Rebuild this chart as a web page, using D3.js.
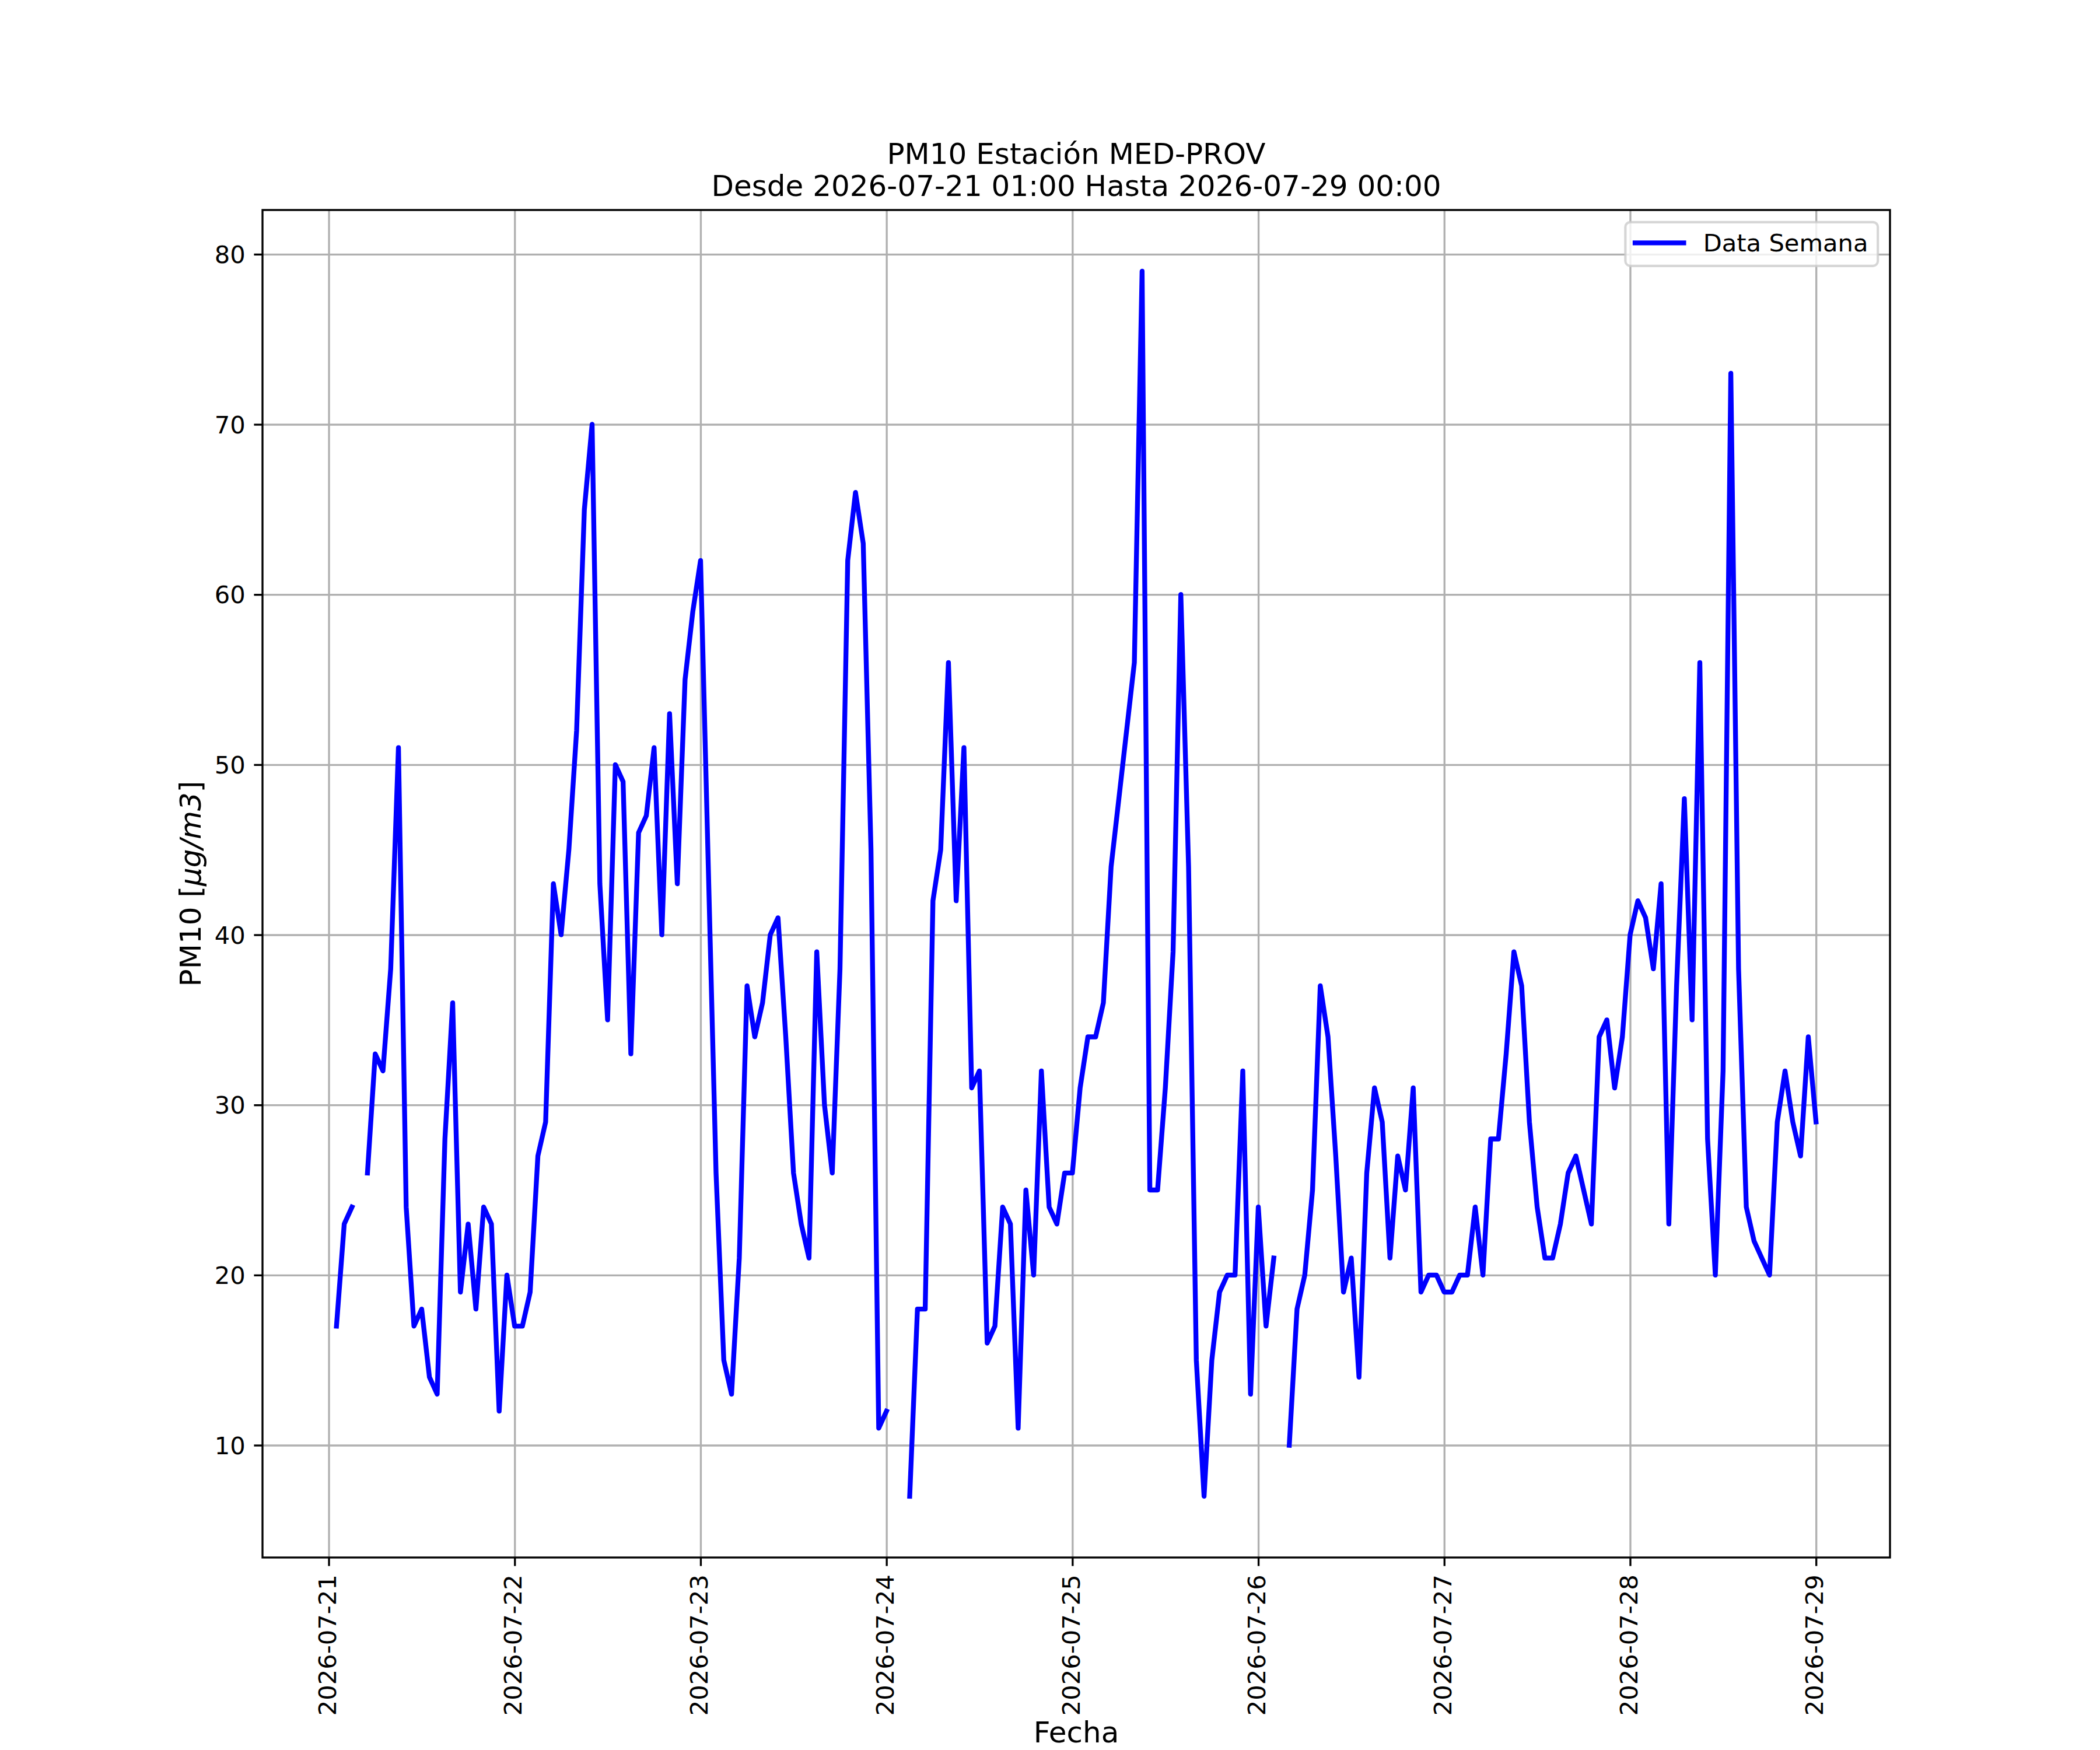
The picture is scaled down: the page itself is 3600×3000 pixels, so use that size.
<!DOCTYPE html>
<html>
<head>
<meta charset="utf-8">
<script src="https://cdn.jsdelivr.net/npm/d3@7"></script>
<style>
    body { margin: 0; background: #ffffff; }
    text { font-family: "DejaVu Sans", sans-serif; fill: #000000; }
</style>
</head>
<body>
<div id="chart"></div>
<script>
const WIDTH = 3600;
const HEIGHT = 3000;
const PT = 300 / 72; // px per point, figure saved at 300 dpi
const margin = {top: 360, right: 360, bottom: 330, left: 450};

const titleLines = ["PM10 Estación MED-PROV", "Desde 2026-07-21 01:00 Hasta 2026-07-29 00:00"];
const seriesName = "Data Semana";
const xLabel = "Fecha";
const yTicks = [10, 20, 30, 40, 50, 60, 70, 80];

// hourly PM10, first value at 2026-07-21 01:00 UTC, null = missing hour
const firstHour = Date.UTC(2026, 6, 21, 1);
const pm10Day21 = [17, 23, 24, null, 26, 33, 32, 38, 51, 24, 17, 18, 14, 13, 28, 36, 19, 23, 18, 24, 23, 12, 20];
const pm10Day22 = [17, 17, 19, 27, 29, 43, 40, 45, 52, 65, 70, 43, 35, 50, 49, 33, 46, 47, 51, 40, 53, 43, 55, 59];
const pm10Day23 = [62, 44, 26, 15, 13, 21, 37, 34, 36, 40, 41, 34, 26, 23, 21, 39, 30, 26, 38, 62, 66, 63, 45, 11];
const pm10Day24 = [12, null, null, 7, 18, 18, 42, 45, 56, 42, 51, 31, 32, 16, 17, 24, 23, 11, 25, 20, 32, 24, 23, 26];
const pm10Day25 = [26, 31, 34, 34, 36, 44, 48, 52, 56, 79, 25, 25, 31, 39, 60, 44, 15, 7, 15, 19, 20, 20, 32, 13];
const pm10Day26 = [24, 17, 21, null, 10, 18, 20, 25, 37, 34, 27, 19, 21, 14, 26, 31, 29, 21, 27, 25, 31, 19, 20, 20];
const pm10Day27 = [19, 19, 20, 20, 24, 20, 28, 28, 33, 39, 37, 29, 24, 21, 21, 23, 26, 27, 25, 23, 34, 35, 31, 34];
const pm10Day28 = [40, 42, 41, 38, 43, 23, 37, 48, 35, 56, 28, 20, 32, 73, 38, 24, 22, 21, 20, 29, 32, 29, 27, 34];
const pm10Day29 = [29];

const values = [].concat(pm10Day21, pm10Day22, pm10Day23, pm10Day24,
    pm10Day25, pm10Day26, pm10Day27, pm10Day28, pm10Day29);
const data = values.map((v, i) => ({date: d3.utcHour.offset(new Date(firstHour), i), value: v}));

const width = WIDTH - margin.left - margin.right;
const height = HEIGHT - margin.top - margin.bottom;
const tickFont = 10 * PT;
const labelFont = 12 * PT;

// matplotlib style 5% margins
const tExtent = d3.extent(data, d => d.date);
const tPad = (tExtent[1] - tExtent[0]) * 0.05;
const x = d3.scaleUtc()
    .domain([new Date(+tExtent[0] - tPad), new Date(+tExtent[1] + tPad)])
    .range([0, width]);

const vExtent = d3.extent(data, d => d.value);
const vPad = (vExtent[1] - vExtent[0]) * 0.05;
const y = d3.scaleLinear()
    .domain([vExtent[0] - vPad, vExtent[1] + vPad])
    .range([height, 0]);

const xTicks = d3.utcDay.range(d3.utcDay.ceil(x.domain()[0]), x.domain()[1]);

const svg = d3.select("#chart").append("svg")
    .attr("width", WIDTH)
    .attr("height", HEIGHT);

svg.append("rect")
    .attr("width", WIDTH)
    .attr("height", HEIGHT)
    .attr("fill", "#ffffff");

const g = svg.append("g")
    .attr("transform", `translate(${margin.left},${margin.top})`);

// grid
g.append("g")
    .attr("transform", `translate(0,${height})`)
    .call(d3.axisBottom(x).tickValues(xTicks).tickSize(-height).tickFormat(""))
    .call(s => s.select(".domain").remove())
    .selectAll("line")
        .attr("stroke", "#b0b0b0")
        .attr("stroke-width", 0.8 * PT);

g.append("g")
    .call(d3.axisLeft(y).tickValues(yTicks).tickSize(-width).tickFormat(""))
    .call(s => s.select(".domain").remove())
    .selectAll("line")
        .attr("stroke", "#b0b0b0")
        .attr("stroke-width", 0.8 * PT);

// series
const line = d3.line()
    .defined(d => d.value != null)
    .x(d => x(d.date))
    .y(d => y(d.value));

g.append("path")
    .datum(data)
    .attr("d", line)
    .attr("fill", "none")
    .attr("stroke", "#0000ff")
    .attr("stroke-width", 2 * PT)
    .attr("stroke-linejoin", "round")
    .attr("stroke-linecap", "square");

// spines
g.append("rect")
    .attr("width", width)
    .attr("height", height)
    .attr("fill", "none")
    .attr("stroke", "#000000")
    .attr("stroke-width", 0.8 * PT);

// axes
const xAxis = g.append("g")
    .attr("transform", `translate(0,${height})`)
    .call(d3.axisBottom(x)
        .tickValues(xTicks)
        .tickFormat(d3.utcFormat("%Y-%m-%d"))
        .tickSize(3.5 * PT)
        .tickPadding(3.5 * PT))
    .attr("font-size", tickFont)
    .attr("font-family", "DejaVu Sans");
xAxis.select(".domain").remove();
xAxis.selectAll(".tick line")
    .attr("stroke", "#000000")
    .attr("stroke-width", 0.8 * PT);
xAxis.selectAll(".tick text")
    .attr("transform", "rotate(-90)")
    .attr("text-anchor", "end")
    .attr("x", -7 * PT)
    .attr("y", 0)
    .attr("dy", "0.28em");

const yAxis = g.append("g")
    .call(d3.axisLeft(y)
        .tickValues(yTicks)
        .tickSize(3.5 * PT)
        .tickPadding(3.5 * PT))
    .attr("font-size", tickFont)
    .attr("font-family", "DejaVu Sans");
yAxis.select(".domain").remove();
yAxis.selectAll(".tick line")
    .attr("stroke", "#000000")
    .attr("stroke-width", 0.8 * PT);
yAxis.selectAll(".tick text")
    .attr("dy", "0.35em");

// labels
g.append("text")
    .attr("x", width / 2)
    .attr("y", 2987 - margin.top)
    .attr("text-anchor", "middle")
    .attr("font-size", labelFont)
    .text(xLabel);

const yLab = g.append("text")
    .attr("transform", `translate(${344 - margin.left},${height / 2}) rotate(-90)`)
    .attr("text-anchor", "middle")
    .attr("font-size", labelFont);
yLab.append("tspan").text("PM10 [");
yLab.append("tspan").attr("font-style", "italic").text("μg/m3");
yLab.append("tspan").text("]");

// title
g.selectAll(".title")
    .data(titleLines)
    .enter().append("text")
        .attr("class", "title")
        .attr("x", width / 2)
        .attr("y", (d, i) => -79 + i * 55)
        .attr("text-anchor", "middle")
        .attr("font-size", labelFont)
        .text(d => d);

// legend, upper right
const legend = g.append("g");
const legendBox = legend.append("rect");
const legendText = legend.append("text")
    .attr("font-size", tickFont)
    .attr("dy", "0.35em")
    .text(seriesName);
const textW = legendText.node().getComputedTextLength();
const boxRight = width - 0.5 * tickFont;
const boxTop = 0.5 * tickFont;
const boxH = 1.8 * tickFont;
const textX = boxRight - 0.4 * tickFont - textW;
const handleX1 = textX - 0.8 * tickFont;
const handleX0 = handleX1 - 2 * tickFont;
const boxLeft = handleX0 - 0.4 * tickFont;
const midY = boxTop + boxH / 2 - 2;

legendBox
    .attr("x", boxLeft)
    .attr("y", boxTop)
    .attr("width", boxRight - boxLeft)
    .attr("height", boxH)
    .attr("rx", 0.2 * tickFont)
    .attr("fill", "#ffffff")
    .attr("fill-opacity", 0.8)
    .attr("stroke", "#cccccc")
    .attr("stroke-opacity", 0.8)
    .attr("stroke-width", PT);

legend.append("line")
    .attr("x1", handleX0)
    .attr("x2", handleX1)
    .attr("y1", midY)
    .attr("y2", midY)
    .attr("stroke", "#0000ff")
    .attr("stroke-width", 2 * PT)
    .attr("stroke-linecap", "square");

legendText
    .attr("x", textX)
    .attr("y", midY);
</script>
</body>
</html>
